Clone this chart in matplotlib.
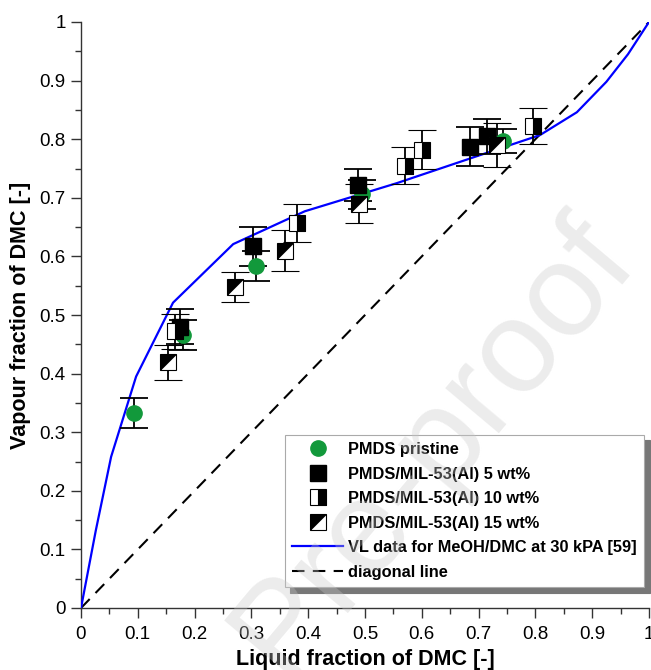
import numpy as np
import matplotlib
matplotlib.use("Agg")
import matplotlib.pyplot as plt
from matplotlib.lines import Line2D
from matplotlib.ticker import MultipleLocator, FuncFormatter

plt.rcParams['font.family'] = ['Liberation Sans', 'DejaVu Sans']

# data
pristine_x = [0.093, 0.180, 0.308, 0.494, 0.743]
pristine_y = [0.333, 0.466, 0.584, 0.706, 0.797]
pristine_err = [0.025, 0.025, 0.026, 0.025, 0.02]

wt5_x = [0.174, 0.303, 0.488, 0.685, 0.715]
wt5_y = [0.480, 0.617, 0.722, 0.787, 0.805]
wt5_err = [0.030, 0.033, 0.028, 0.033, 0.030]

wt10_x = [0.165, 0.380, 0.570, 0.600, 0.795]
wt10_y = [0.472, 0.657, 0.755, 0.782, 0.823]
wt10_err = [0.030, 0.032, 0.031, 0.033, 0.031]

wt15_x = [0.153, 0.271, 0.359, 0.490, 0.733]
wt15_y = [0.419, 0.548, 0.610, 0.690, 0.790]
wt15_err = [0.030, 0.025, 0.035, 0.033, 0.037]

vle_x = [0, 0.026, 0.053, 0.097, 0.162, 0.268, 0.394, 0.556, 0.70, 0.808, 0.873, 0.925, 0.963, 1.0]
vle_y = [0, 0.132, 0.258, 0.395, 0.521, 0.621, 0.677, 0.725, 0.772, 0.807, 0.846, 0.898, 0.945, 1.0]

diag = [0, 1]

labels = ["PMDS pristine", "PMDS/MIL-53(Al) 5 wt%", "PMDS/MIL-53(Al) 10 wt%",
          "PMDS/MIL-53(Al) 15 wt%", "VL data for MeOH/DMC at 30 kPA [59]", "diagonal line"]

green = '#12993b'
ms = 11
tri = [(-1, -1), (-1, 1), (1, 1), (-1, -1)]

fig = plt.figure(figsize=(6.51, 6.70), dpi=100)
ax = fig.add_axes([81/651, 1-608/670, 568/651, 586/670])

ax.plot(diag, diag, color='black', lw=1.5, dashes=(6, 4), zorder=2)
ax.plot(vle_x, vle_y, color='#0000ff', lw=1.6, zorder=3)

eb = dict(ecolor='black', elinewidth=1.3, capsize=10, capthick=1.3, linestyle='none', zorder=4)
ax.errorbar(pristine_x, pristine_y, yerr=pristine_err, marker='o', ms=ms,
            mfc=green, mec=green, **eb)
ax.errorbar(wt5_x, wt5_y, yerr=wt5_err, marker='s', ms=ms, mfc='black', mec='black', **eb)
ax.errorbar(wt10_x, wt10_y, yerr=wt10_err, marker='s', ms=ms, fillstyle='right',
            mfc='black', mfcalt='white', mec='black', mew=0.8, **eb)
ax.errorbar(wt15_x, wt15_y, yerr=wt15_err, marker='s', ms=ms, mfc='white', mec='black',
            mew=0.8, **eb)
ax.plot(wt15_x, wt15_y, linestyle='none', marker=tri, ms=ms, mfc='black', mec='black',
        mew=0.5, zorder=5)

ax.set_xlim(0, 1)
ax.set_ylim(0, 1)
ax.xaxis.set_major_locator(MultipleLocator(0.1))
ax.yaxis.set_major_locator(MultipleLocator(0.1))
ax.xaxis.set_minor_locator(MultipleLocator(0.05))
ax.yaxis.set_minor_locator(MultipleLocator(0.05))
fmt = FuncFormatter(lambda v, p: f"{v:.1f}".rstrip('0').rstrip('.') if v not in (0, 1) else f"{v:g}")
ax.xaxis.set_major_formatter(fmt)
ax.yaxis.set_major_formatter(fmt)
for s in ['top', 'right']:
    ax.spines[s].set_visible(False)
for s in ['left', 'bottom']:
    ax.spines[s].set_color('#333333')
    ax.spines[s].set_linewidth(1.0)
ax.tick_params(which='major', direction='out', length=7, width=1, color='#333333',
               labelsize=13.5, pad=4)
ax.tick_params(axis='x', which='major', pad=6)
ax.tick_params(which='minor', direction='out', length=4, width=1, color='#333333')

ax.set_xlabel("Liquid fraction of DMC [-]", fontsize=15.5, fontweight='bold', labelpad=4)
ax.set_ylabel("Vapour fraction of DMC [-]", fontsize=15.5, fontweight='bold', labelpad=6)

h_pr = Line2D([], [], linestyle='none', marker='o', ms=ms, mfc=green, mec=green)
h_5 = Line2D([], [], linestyle='none', marker='s', ms=ms, mfc='black', mec='black')
h_10 = Line2D([], [], linestyle='none', marker='s', ms=ms, fillstyle='right',
              mfc='black', mfcalt='white', mec='black', mew=0.8)
h_15a = Line2D([], [], linestyle='none', marker='s', ms=ms, mfc='white', mec='black', mew=0.8)
h_15b = Line2D([], [], linestyle='none', marker=tri, ms=ms, mfc='black', mec='black', mew=0.5)
h_vle = Line2D([], [], color='#0000ff', lw=1.6)
h_dg = Line2D([], [], color='black', lw=1.5, dashes=(6, 4))

leg = ax.legend([h_pr, h_5, h_10, (h_15a, h_15b), h_vle, h_dg], labels,
                loc='lower right', bbox_to_anchor=((644-81)/568, 21/586), borderaxespad=0,
                prop={'weight': 'bold', 'size': 11.8}, fancybox=False, framealpha=1,
                edgecolor='#aaaaaa', labelspacing=0.58, handlelength=3.1, handletextpad=0.3,
                borderpad=0.45,
                shadow={'ox': 4, 'oy': -4, 'color': '#777777', 'alpha': 1})
leg.get_frame().set_linewidth(0.8)

fig.text(0.665, 0.335, "Pre-proof", fontsize=95, color='#c8c8c8', alpha=0.35, rotation=50,
         ha='center', va='center', zorder=10)

fig.savefig("out.png", dpi=100)
